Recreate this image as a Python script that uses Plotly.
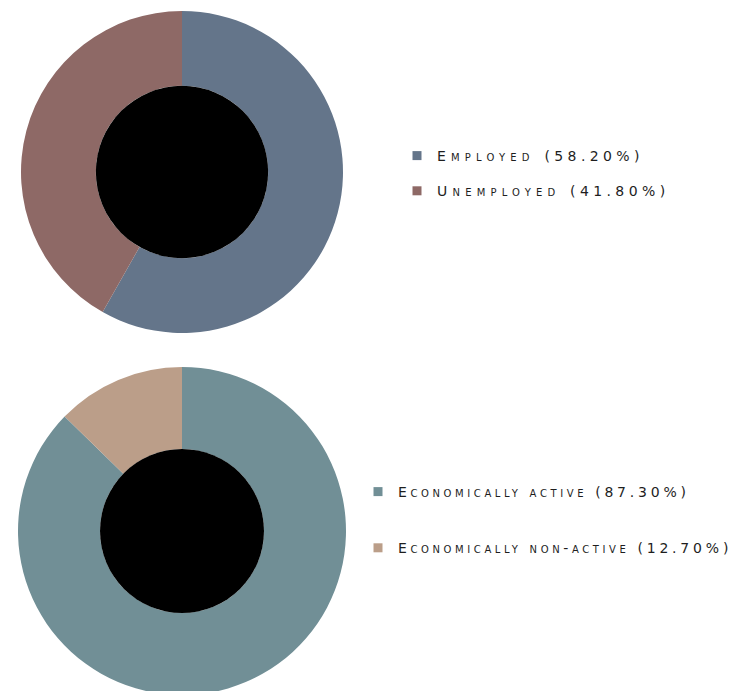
import plotly.graph_objects as go

# ---- data ----
emp_labels = ["Employed", "Unemployed"]
emp_values = [58.2, 41.8]
emp_colors = ["#64758a", "#8e6966"]

act_labels = ["Economically active", "Economically non-active"]
act_values = [87.3, 12.7]
act_colors = ["#718f96", "#bb9e89"]

W, H = 740, 691
OFF = 8  # page body margin offset

top_dom = dict(x=[(21 - OFF) / W, (343 - OFF) / W], y=[1 - (333 - OFF) / H, 1 - (11 - OFF) / H])
bot_dom = dict(x=[(18 - OFF) / W, (346 - OFF) / W], y=[1 - (695 - OFF) / H, 1 - (367 - OFF) / H])
top_hole = 0.535
bot_hole = 0.50

fig = go.Figure()

fig.add_trace(go.Pie(labels=emp_labels, values=emp_values, marker=dict(colors=emp_colors),
                     hole=top_hole, sort=False, direction="clockwise", rotation=0,
                     textinfo="none", showlegend=False, domain=top_dom))
fig.add_trace(go.Pie(labels=act_labels, values=act_values, marker=dict(colors=act_colors),
                     hole=bot_hole, sort=False, direction="counterclockwise", rotation=0,
                     textinfo="none", showlegend=False, domain=bot_dom))


def lab(name, v, sp_w, sp_d):
    return (f'<span style="letter-spacing:{sp_w}px">{name} </span>'
            f'<span style="letter-spacing:{sp_d}px">({v:.2f}%)</span>')


for i, (n, v, c) in enumerate(zip(emp_labels, emp_values, emp_colors)):
    fig.add_trace(go.Scatter(x=[None], y=[None], mode="markers", name=lab(n, v, 5.2, 4.4),
                             marker=dict(symbol="square", size=9, color=c),
                             legend="legend", legendgroup=f"e{i}"))
for i, (n, v, c) in enumerate(zip(act_labels, act_values, act_colors)):
    fig.add_trace(go.Scatter(x=[None], y=[None], mode="markers", name=lab(n, v, 3.6, 3.8),
                             marker=dict(symbol="square", size=9, color=c),
                             legend="legend2", legendgroup=f"a{i}"))

# black centres of the donuts
shapes = []
for dom, hole in ((top_dom, top_hole), (bot_dom, bot_hole)):
    x0, x1 = dom["x"][0] * W, dom["x"][1] * W
    y0, y1 = (1 - dom["y"][1]) * H, (1 - dom["y"][0]) * H
    cx, cy = (x0 + x1) / 2, (y0 + y1) / 2
    r = min(x1 - x0, y1 - y0) / 2 * hole
    shapes.append(dict(type="circle", xref="paper", yref="paper", layer="above",
                       x0=(cx - r) / W, x1=(cx + r) / W, y0=1 - (cy + r) / H, y1=1 - (cy - r) / H,
                       fillcolor="#000000", line=dict(width=0)))

legfont = dict(family="DejaVu Sans", size=14, color="#1e1e1e", variant="small-caps")
fig.update_layout(
    width=W, height=H, margin=dict(l=0, r=0, t=0, b=0, autoexpand=False),
    paper_bgcolor="white", plot_bgcolor="white",
    xaxis=dict(visible=False), yaxis=dict(visible=False),
    shapes=shapes,
    legend=dict(x=(397 - OFF) / W, y=1 - (143 - 3 - OFF) / H, xanchor="left", yanchor="top",
                font=legfont, tracegroupgap=14, bgcolor="rgba(0,0,0,0)"),
    legend2=dict(x=(358 - OFF) / W, y=1 - (480 - 4 - OFF) / H, xanchor="left", yanchor="top",
                 font=legfont, tracegroupgap=35, bgcolor="rgba(0,0,0,0)"),
)

fig.write_html("out.html")
